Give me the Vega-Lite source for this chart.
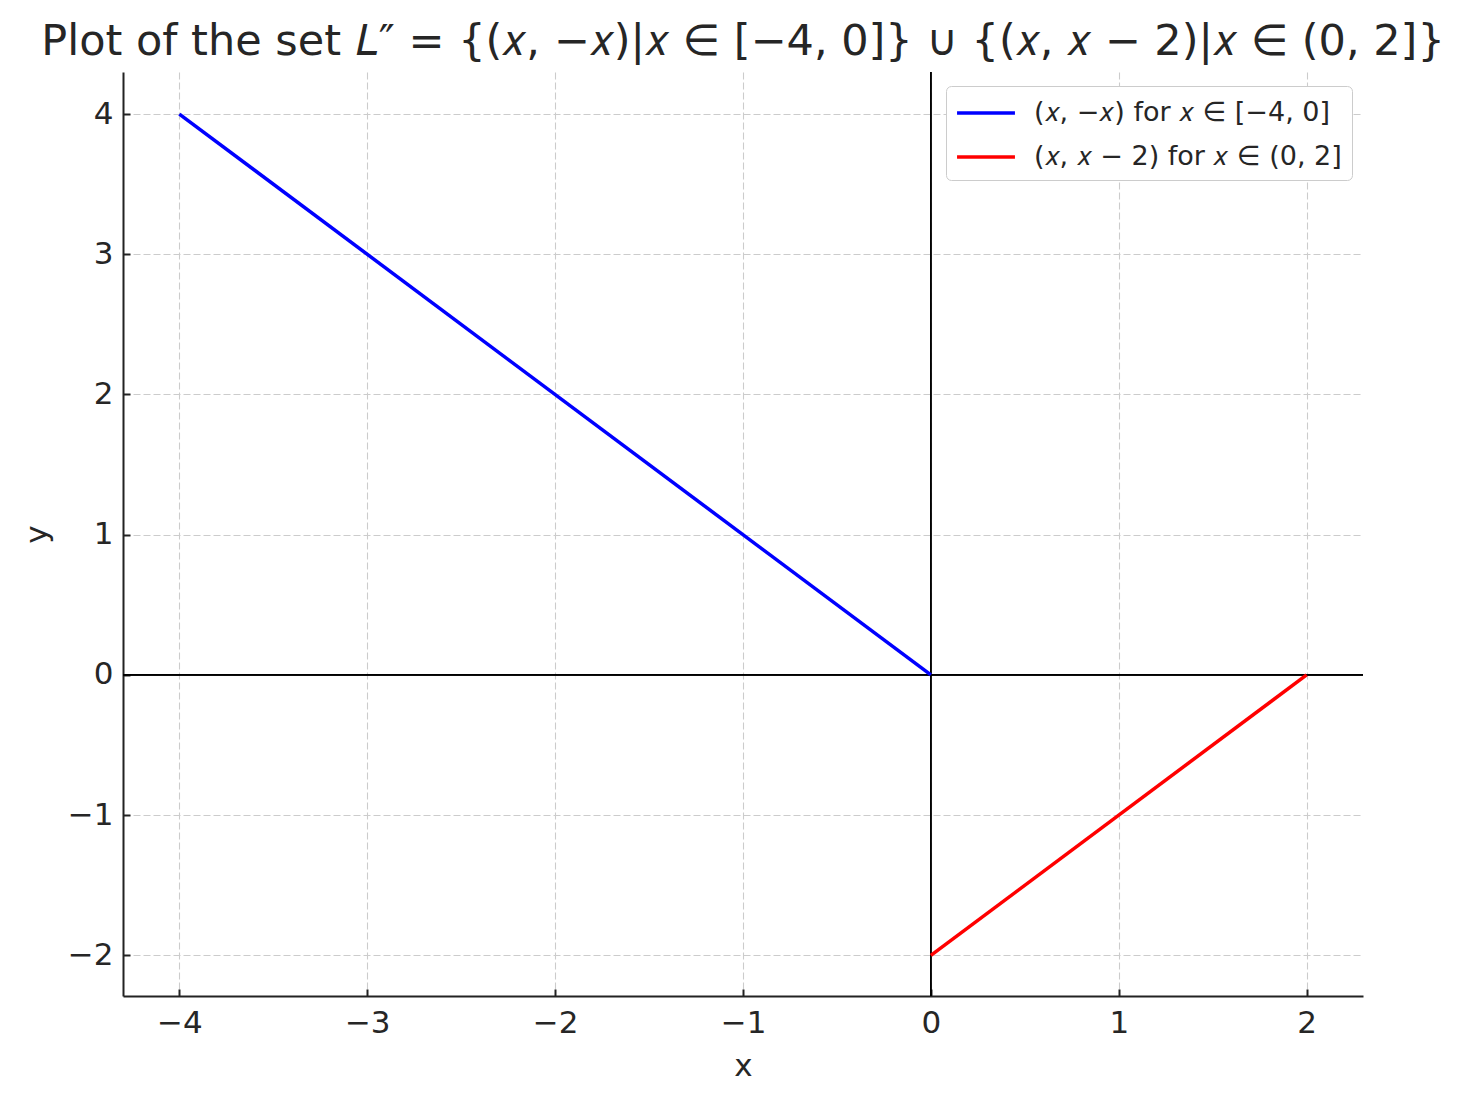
{
  "$schema": "https://vega.github.io/schema/vega-lite/v6.json",
  "autosize": {"type": "none"},
  "width": 1240,
  "height": 924,
  "padding": {"left": 123, "top": 72, "right": 101, "bottom": 107},
  "background": "white",
  "config": {
    "font": "DejaVu Sans",
    "view": {"stroke": null},
    "axis": {"labelFont": "DejaVu Sans", "titleFont": "DejaVu Sans", "labelColor": "#262626", "titleColor": "#262626", "titleFontWeight": "normal"}
  },
  "title": {
    "text": "Plot of the set 𝐿″ = {(𝑥, −𝑥)|𝑥 ∈ [−4, 0]} ∪ {(𝑥, 𝑥 − 2)|𝑥 ∈ (0, 2]}",
    "font": "DejaVu Sans",
    "fontSize": 43,
    "fontWeight": "normal",
    "color": "#262626",
    "anchor": "middle",
    "frame": "group",
    "baseline": "bottom",
    "offset": 6,
    "dy": 42
  },
  "data": {
    "values": [
      {"series": "a", "x": -4, "y": 4},
      {"series": "a", "x": 0, "y": 0},
      {"series": "b", "x": 0, "y": -2},
      {"series": "b", "x": 2, "y": 0}
    ]
  },
  "layer": [
    {
      "mark": {"type": "rule", "color": "black", "strokeWidth": 1.1},
      "encoding": {"x": {"datum": 0, "type": "quantitative", "scale": {"domain": [-4.3, 2.3], "nice": false, "zero": false}}}
    },
    {
      "mark": {"type": "rule", "color": "black", "strokeWidth": 1.1},
      "encoding": {"y": {"datum": 0, "type": "quantitative", "scale": {"domain": [-2.29, 4.3], "nice": false, "zero": false}}}
    },
    {
      "mark": {"type": "line", "strokeWidth": 3.5},
      "encoding": {
        "x": {
          "field": "x", "type": "quantitative",
          "scale": {"domain": [-4.3, 2.3], "nice": false, "zero": false},
          "axis": {
            "title": "x", "titleFontSize": 31, "titlePadding": 13,
            "values": [-4, -3, -2, -1, 0, 1, 2], "format": "d", "labelFontSize": 31, "labelPadding": 19,
            "tickSize": -7, "tickWidth": 2, "tickColor": "#222",
            "domainColor": "#222", "domainWidth": 2,
            "grid": true, "gridDash": [7, 3], "gridColor": "#cccccc", "gridWidth": 1.1
          }
        },
        "y": {
          "field": "y", "type": "quantitative",
          "scale": {"domain": [-2.29, 4.3], "nice": false, "zero": false},
          "axis": {
            "title": "y", "titleFontSize": 31, "titlePadding": 14,
            "values": [-2, -1, 0, 1, 2, 3, 4], "format": "d", "labelFontSize": 31, "labelPadding": 17,
            "tickSize": -7, "tickWidth": 2, "tickColor": "#222",
            "domainColor": "#222", "domainWidth": 2,
            "grid": true, "gridDash": [7, 3], "gridColor": "#cccccc", "gridWidth": 1.1
          }
        },
        "color": {
          "field": "series", "type": "nominal",
          "scale": {"domain": ["a", "b"], "range": ["#0000ff", "#ff0000"]},
          "legend": {
            "title": null, "orient": "none", "legendX": 823, "legendY": 14,
            "labelExpr": "datum.value == 'a' ? '(𝑥, −𝑥) for 𝑥 ∈ [−4, 0]' : '(𝑥, 𝑥 − 2) for 𝑥 ∈ (0, 2]'",
            "symbolType": "M-1.93,0H1.93", "symbolSize": 900, "symbolStrokeWidth": 3.5, "symbolOffset": 13,
            "labelFontSize": 27, "labelColor": "#262626", "labelFont": "DejaVu Sans", "labelOffset": 31, "labelLimit": 600,
            "fillColor": "white", "strokeColor": "#cccccc", "cornerRadius": 5,
            "padding": 10, "rowPadding": 14
          }
        }
      }
    }
  ]
}
